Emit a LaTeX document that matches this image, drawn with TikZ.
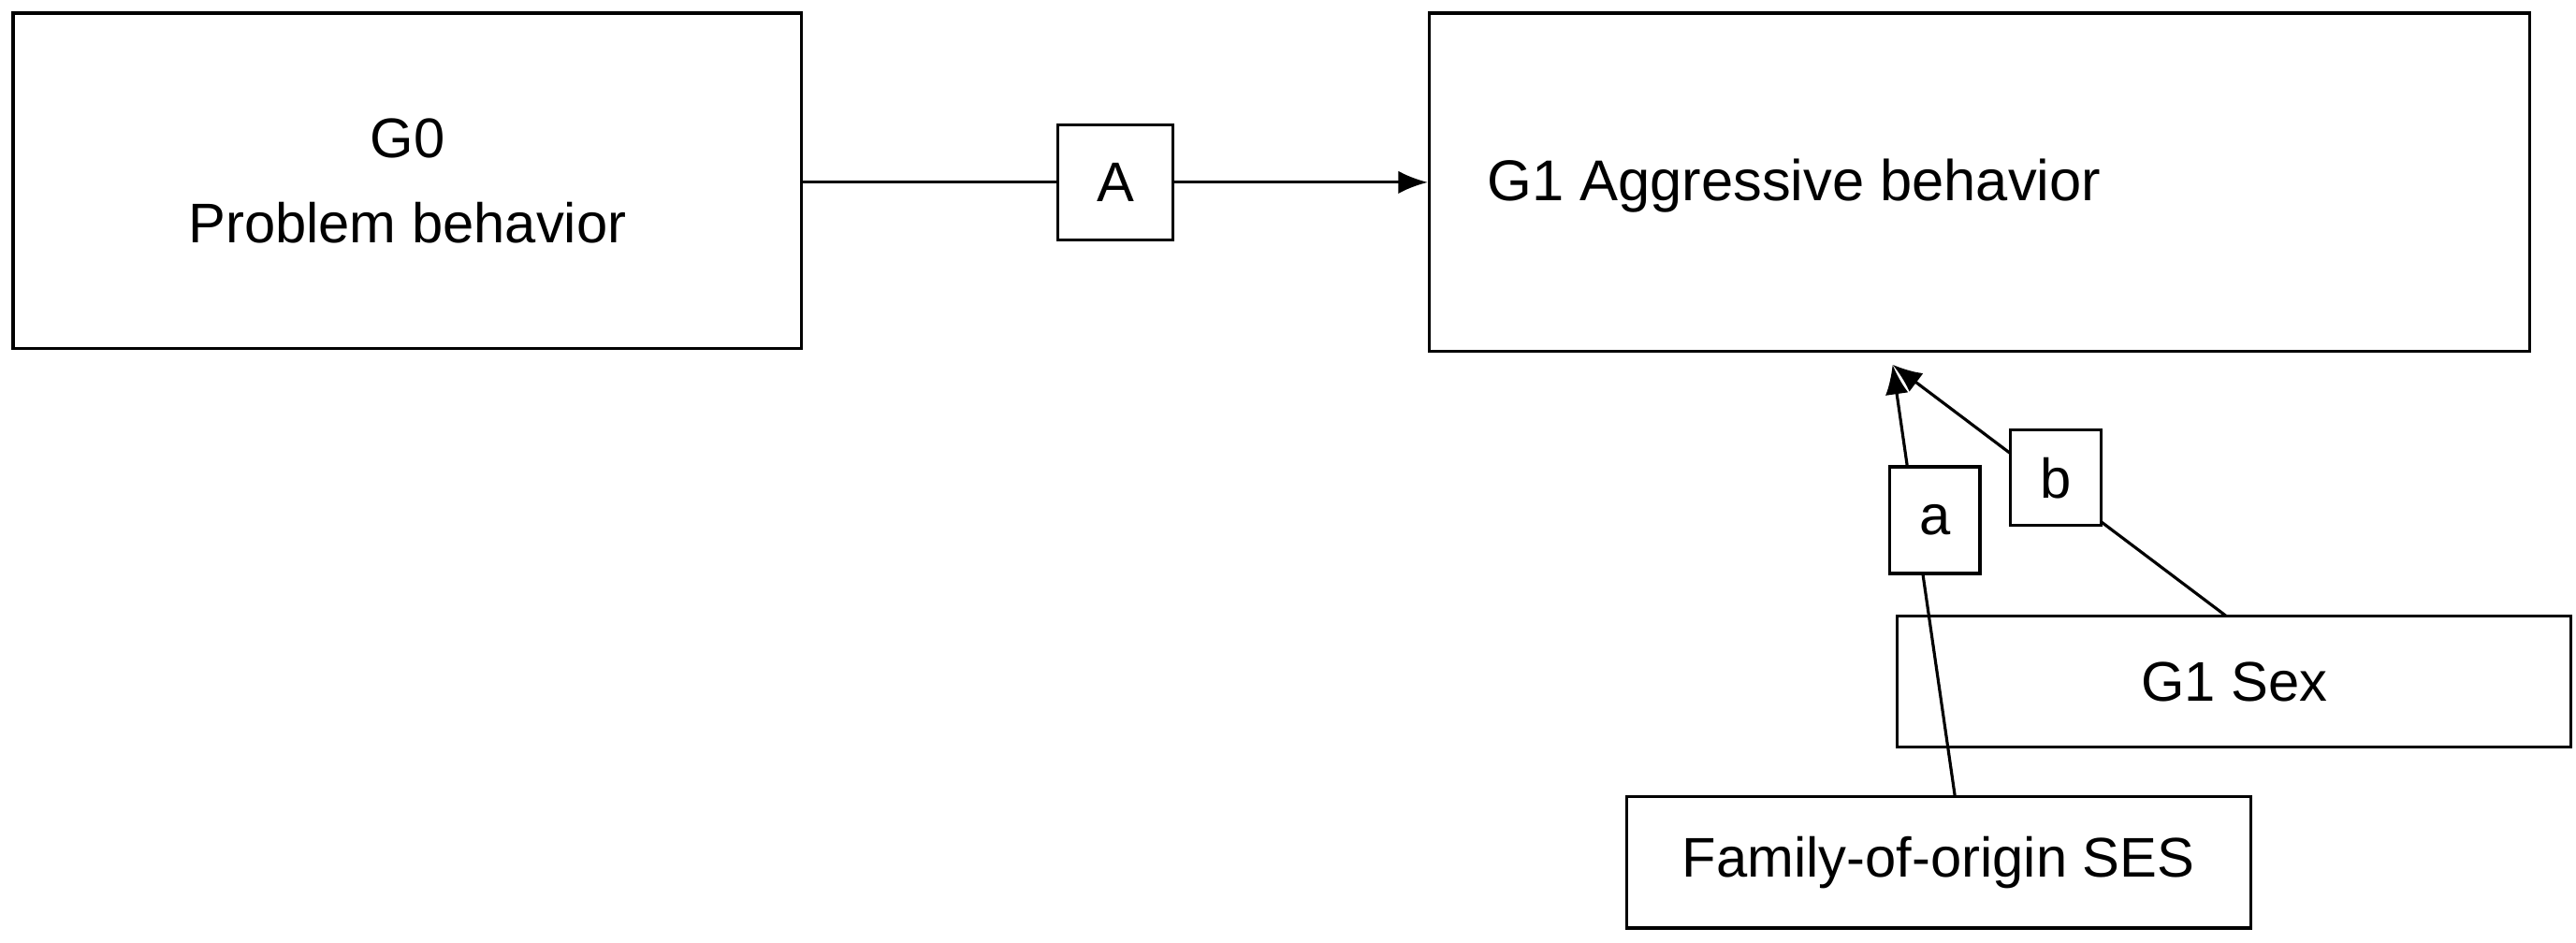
\documentclass[tikz,border=0pt]{standalone}
\usepackage{fontspec}
\setmainfont{Liberation Sans}
\usetikzlibrary{arrows.meta}
\begin{document}
\begin{tikzpicture}[x=0.01756cm,y=-0.01756cm,line width=0.9pt,
    box/.style={draw,align=center,inner sep=0pt,font=\fontsize{17}{26}\selectfont},
    tag/.style={draw,fill=white,inner sep=0pt,minimum width=35*0.01756cm,font=\fontsize{17}{20}\selectfont},
    conn/.style={-{Latex[length=9pt,width=7pt]}}]
  \useasboundingbox (0,0) rectangle (1568,574);
  % outcome and predictors
  \node[box,minimum width=480*0.01756cm,minimum height=204*0.01756cm] (g0) at (248,110) {G0\\Problem behavior};
  \node[box,minimum width=670*0.01756cm,minimum height=206*0.01756cm] (g1) at (1205,111) {};
  \node[font=\fontsize{17.5}{20}\selectfont] (g1t) at (1092,113) {G1 Aggressive behavior};
  \node[box,minimum width=410*0.01756cm,minimum height=80*0.01756cm] (sex) at (1360,415) {G1 Sex};
  \node[box,minimum width=380*0.01756cm,minimum height=80*0.01756cm] (ses) at (1180,525) {Family-of-origin SES};
  \coordinate (tip) at (1152,222);
  % paths
  \draw[conn] (g0.east |- 0,111) -- node[tag,minimum width=70*0.01756cm,minimum height=70*0.01756cm] (A) {A} (g1.west |- 0,111);
  \draw[conn] (1190,485) -- node[tag,pos=0.64,minimum width=55*0.01756cm,minimum height=65*0.01756cm,xshift=6pt] (a) {a} (tip);
  \draw[conn] (1355,375) -- node[tag,pos=0.55,minimum width=55*0.01756cm,minimum height=58*0.01756cm,xshift=4pt] (b) {b} (tip);
\end{tikzpicture}
\end{document}
